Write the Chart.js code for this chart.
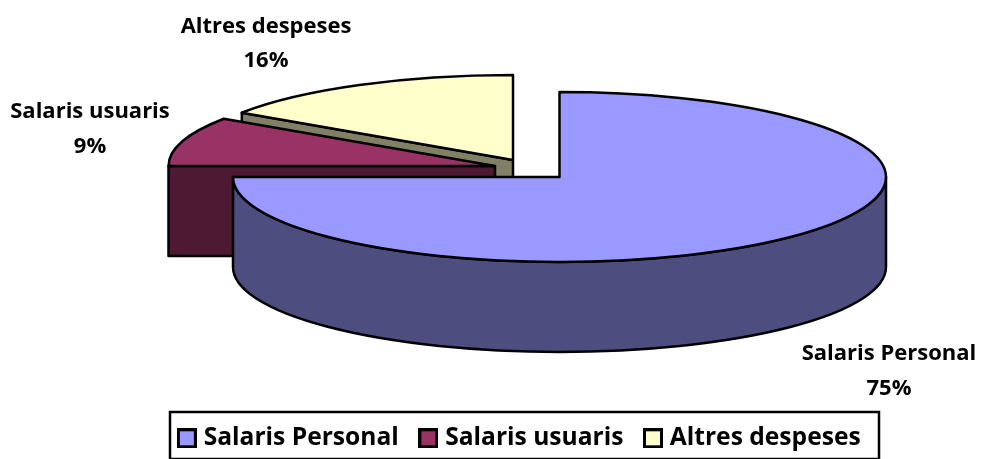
<!DOCTYPE html>
<html>
<head>
<meta charset="utf-8">
<style>html,body{margin:0;padding:0;background:#fff}#w{width:981px;height:459px;position:relative}</style>
<script src="https://cdn.jsdelivr.net/npm/chart.js@4"></script>
</head>
<body>
<div id="w"><canvas id="c" width="981" height="459"></canvas></div>
<script>
const categories = ['Salaris Personal', 'Salaris usuaris', 'Altres despeses'];
const values = [75, 9.4, 15.6];
const topColors = ['#9999FF', '#993366', '#FFFFCC'];
const sideColors = ['#4D4D80', '#4D1933', '#808066'];

// 3D projection settings
const RADIUS = 326.5, SQUASH = 0.26, DEPTH = 90;
const sliceCentres = [[559.5, 177], [495, 166], [513, 160]];
const labelPos = [[889, 354, 389], [90, 112, 147], [266, 27, 61]];
const DRAW_ORDER = [2, 1, 0];
const FONT = '"Open Sans"';
const LEGEND_LEFT = 31, LEGEND_TOP = 401;

function legendSwatch(color) {
  const cv = document.createElement('canvas');
  cv.width = 20; cv.height = 20;
  const g = cv.getContext('2d');
  g.fillStyle = color; g.strokeStyle = '#000'; g.lineWidth = 3;
  g.fillRect(1.5, 1.5, 17, 17); g.strokeRect(1.5, 1.5, 17, 17);
  return cv;
}

const pie3d = {
  id: 'pie3d',
  afterLayout(chart) {
    const l = chart.legend;
    const h = l.height;
    l.left = LEGEND_LEFT; l.right = LEGEND_LEFT + chart.width;
    l.top = LEGEND_TOP; l.bottom = LEGEND_TOP + h;
  },
  beforeDraw(chart) {
    const ctx = chart.ctx;
    const L = 170, R = 879, T = 412, B = 459;
    ctx.save();
    ctx.strokeStyle = '#000'; ctx.lineWidth = 2.5;
    ctx.strokeRect(L, T, R - L, B - T);
    ctx.restore();
  },
  beforeDatasetsDraw(chart) {
    const ctx = chart.ctx;
    const arcs = chart.getDatasetMeta(0).data;
    const face = (cx, cy, a) => {
      const px = cx + RADIUS * Math.cos(a), py = cy + RADIUS * SQUASH * Math.sin(a);
      ctx.beginPath();
      ctx.moveTo(cx, cy); ctx.lineTo(px, py); ctx.lineTo(px, py + DEPTH); ctx.lineTo(cx, cy + DEPTH);
      ctx.closePath(); ctx.fill(); ctx.stroke();
    };
    ctx.save();
    ctx.lineWidth = 2.5; ctx.strokeStyle = '#000'; ctx.lineJoin = 'round';
    DRAW_ORDER.forEach(i => {
      const el = arcs[i];
      const [cx, cy] = sliceCentres[i];
      const s = el.startAngle, e = el.endAngle;
      const rx = el.outerRadius, ry = el.outerRadius * SQUASH;
      ctx.fillStyle = sideColors[i];
      if (Math.sin(s - Math.PI / 2) > 1e-6) face(cx, cy, s);
      if (Math.sin(e + Math.PI / 2) > 1e-6) face(cx, cy, e);
      const a0 = Math.max(s, 0), a1 = Math.min(e, Math.PI);
      if (a1 > a0) {
        ctx.beginPath();
        ctx.ellipse(cx, cy, rx, ry, 0, a0, a1);
        ctx.ellipse(cx, cy + DEPTH, rx, ry, 0, a1, a0, true);
        ctx.closePath(); ctx.fill(); ctx.stroke();
      }
      ctx.save();
      ctx.translate(cx, cy); ctx.scale(1, SQUASH); ctx.translate(-el.x, -el.y);
      el.draw(ctx);
      ctx.restore();
      ctx.beginPath();
      ctx.moveTo(cx, cy);
      ctx.ellipse(cx, cy, rx, ry, 0, s, e);
      ctx.closePath(); ctx.stroke();
    });
    ctx.restore();
    return false;
  },
  afterDraw(chart) {
    const ctx = chart.ctx;
    ctx.save();
    ctx.fillStyle = '#000';
    ctx.font = 'bold 22px ' + FONT;
    ctx.textAlign = 'center'; ctx.textBaseline = 'middle';
    categories.forEach((c, i) => {
      const [x, y1, y2] = labelPos[i];
      ctx.fillText(c, x, y1);
      ctx.fillText(Math.round(values[i]) + '%', x, y2);
    });
    ctx.restore();
  }
};

new Chart(document.getElementById('c'), {
  type: 'pie',
  data: {
    labels: categories,
    datasets: [{ data: values, backgroundColor: topColors, borderWidth: 0, radius: RADIUS }]
  },
  plugins: [pie3d],
  options: {
    responsive: false,
    animation: false,
    layout: { padding: { left: 84 } },
    plugins: {
      tooltip: { enabled: false },
      legend: {
        position: 'bottom',
        labels: {
          color: '#000',
          usePointStyle: true,
          pointStyleWidth: 9,
          boxHeight: 20,
          padding: 25,
          font: { family: FONT, weight: 'bold', size: 24.6 },
          generateLabels: () => categories.map((c, i) => ({
            text: c, fillStyle: topColors[i], strokeStyle: '#000', lineWidth: 0, hidden: false, index: i,
            pointStyle: legendSwatch(topColors[i])
          }))
        }
      }
    }
  }
});
</script>
</body>
</html>
